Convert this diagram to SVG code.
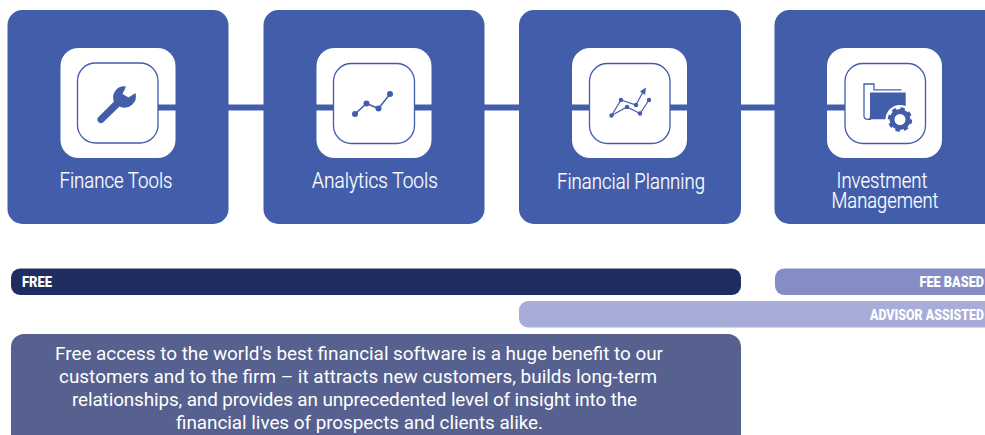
<svg xmlns="http://www.w3.org/2000/svg" width="985" height="435" viewBox="0 0 985 435">
<style>
.card{fill:#425eab}
.tile{fill:#fff}
.inner{fill:#fff;stroke:#425eab;stroke-width:1.3}
.lbl{font-family:Roboto,"Liberation Sans",sans-serif;font-size:22px;font-weight:300;fill:#fff;text-anchor:middle;stroke:#fff;stroke-width:.2}
.tag{font-family:Roboto,"Liberation Sans",sans-serif;font-size:14.500px;font-weight:900;fill:#fff}
.para{font-family:Roboto,"Liberation Sans",sans-serif;font-size:18.900px;fill:#fff;text-anchor:middle}
.ic{fill:none;stroke:#425eab;stroke-width:1.5}
.dot{fill:#425eab}
.conn{fill:none;stroke:#425eab;stroke-width:6}
</style>
<rect width="985" height="435" fill="#fff"/>
<g id="node-finance-tools">
<rect class="card" x="7.500" y="10" width="221" height="214" rx="15"/>
<rect class="tile" x="60.500" y="48" width="115" height="110" rx="18"/>
<rect class="inner" x="77.500" y="63" width="80.500" height="80" rx="18"/>
<path d="M126 86.500A11 11 0 0 0 114 101.500L98 117.500A3.600 3.600 0 0 0 103 122.500L119.500 106.500A11.500 11.500 0 0 0 135.500 93L128.500 97.500L122.500 94Z" fill="#425eab"/>
<text class="lbl" x="116" y="188" textLength="113" lengthAdjust="spacingAndGlyphs">Finance Tools</text>
</g>
<g id="node-analytics-tools">
<rect class="card" x="263.500" y="10" width="221" height="214" rx="15"/>
<rect class="tile" x="316.500" y="48" width="115" height="110" rx="18"/>
<rect class="inner" x="333.500" y="63.500" width="81" height="80" rx="18"/>
<path class="ic" d="M355 114L366.500 103.500L378.500 108.500L390 94"/>
<circle class="dot" cx="355" cy="114" r="3"/><circle class="dot" cx="366.500" cy="103.500" r="3"/><circle class="dot" cx="378.500" cy="108.500" r="3"/><circle class="dot" cx="390" cy="94" r="3"/>
<text class="lbl" x="375" y="188" textLength="126" lengthAdjust="spacingAndGlyphs">Analytics Tools</text>
</g>
<g id="node-financial-planning">
<rect class="card" x="519" y="10" width="222" height="214" rx="15"/>
<rect class="tile" x="572" y="48" width="115" height="110" rx="18"/>
<rect class="inner" x="589.500" y="63.500" width="80.500" height="80" rx="18"/>
<path class="ic" style="stroke-width:1.200" d="M611.500 115.500L621 100L636 105L644 90M611.500 115.500L627 107L640 113.500L649 100"/>
<path class="dot" d="M640 91.500L646 87.500L645 95Z"/>
<circle class="dot" cx="611.500" cy="115.500" r="2.200"/><circle class="dot" cx="621" cy="100" r="2.200"/><circle class="dot" cx="636" cy="105" r="2.200"/><circle class="dot" cx="627" cy="107" r="2.200"/><circle class="dot" cx="640" cy="113.500" r="2.200"/><circle class="dot" cx="649" cy="100" r="2.200"/>
<text class="lbl" x="631" y="189" textLength="148" lengthAdjust="spacingAndGlyphs">Financial Planning</text>
</g>
<g id="node-investment-management">
<rect class="card" x="774.500" y="10" width="230" height="214" rx="15"/>
<rect class="tile" x="827" y="48" width="115" height="110" rx="18"/>
<rect class="inner" x="845" y="63.500" width="80.500" height="80" rx="18"/>
<path d="M901.500 89.800H874V84H864V116Q864 119.300 868 119.300H871" fill="none" stroke="#425eab" stroke-width="1.300"/>
<path d="M870 92.500H905.700V119.300H868.500Q870 118 870 115Z" fill="#425eab"/>
<circle cx="900" cy="119.500" r="14.500" fill="#fff"/>
<circle cx="900" cy="119.500" r="8" fill="none" stroke="#425eab" stroke-width="5"/>
<circle cx="900" cy="119.500" r="10.500" fill="none" stroke="#425eab" stroke-width="3.500" stroke-dasharray="4.250 3.997"/>
<text class="lbl" x="882" y="188" textLength="91" lengthAdjust="spacingAndGlyphs">Investment</text>
<text class="lbl" x="885" y="208" textLength="107" lengthAdjust="spacingAndGlyphs">Management</text>
</g>
<g id="connectors">
<path class="conn" d="M158 107.500H333.500"/>
<path class="conn" d="M414.500 107.500H589.500"/>
<path class="conn" d="M670 107.500H845"/>
</g>
<g id="bar-free">
<rect x="11" y="268.500" width="730" height="26.500" rx="9" fill="#1f2d60"/>
<text class="tag" x="22" y="287" textLength="30" lengthAdjust="spacingAndGlyphs">FREE</text>
</g>
<g id="bar-fee-based">
<rect x="775" y="268.500" width="240" height="26.500" rx="9" fill="#858dc4"/>
<text class="tag" x="919.500" y="287" textLength="64.500" lengthAdjust="spacingAndGlyphs">FEE BASED</text>
</g>
<g id="bar-advisor-assisted">
<rect x="519" y="301" width="496" height="26.500" rx="9" fill="#a7acd9"/>
<text class="tag" x="870" y="320" textLength="114" lengthAdjust="spacingAndGlyphs">ADVISOR ASSISTED</text>
</g>
<g id="description">
<rect x="11" y="334" width="730" height="120" rx="13" fill="#56618f"/>
<text class="para" x="359" y="359.500" textLength="608">Free access to the world's best financial software is a huge benefit to our</text>
<text class="para" x="358" y="382.500" textLength="598">customers and to the firm – it attracts new customers, builds long-term</text>
<text class="para" x="354.500" y="405.500" textLength="565">relationships, and provides an unprecedented level of insight into the</text>
<text class="para" x="359.500" y="428.500" textLength="367">financial lives of prospects and clients alike.</text>
</g>
</svg>
